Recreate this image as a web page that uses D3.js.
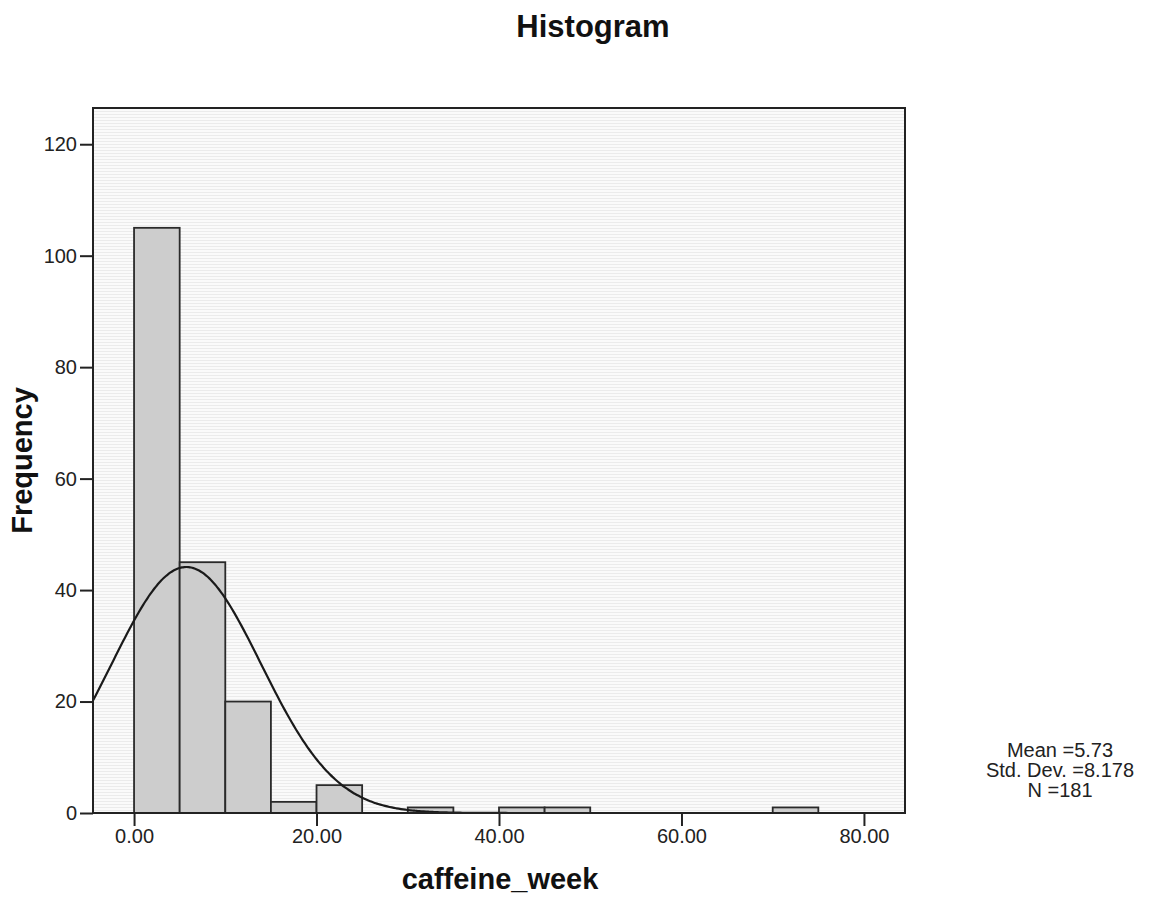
<!DOCTYPE html>
<html>
<head>
<meta charset="UTF-8">
<title>Histogram</title>
<script src="https://d3js.org/d3.v7.min.js"></script>
<style>
  body { margin: 0; background: #fff; font-family: 'Liberation Sans', Arial, sans-serif; }
  .tick text { font-family: 'Liberation Sans', Arial, sans-serif; font-size: 20px; fill: #222; }
</style>
</head>
<body>
<div id="chart"></div>
<script>
  // bin edges (width 5) and frequencies
  const binStart = [0, 5, 10, 15, 20, 25, 30, 35, 40, 45, 50, 55, 60, 65, 70];
  const counts   = [105, 45, 20, 2, 5, 0, 1, 0, 1, 1, 0, 0, 0, 0, 1];
  const binWidth = 5;
  const xTicks = [0, 20, 40, 60, 80];
  const yTicks = [0, 20, 40, 60, 80, 100, 120];
  const stats = { mean: 5.73, sd: 8.178, n: 181 };
  const statLines = ['Mean =5.73', 'Std. Dev. =8.178', 'N =181'];

  const W = 1151, H = 909;
  const P = { left: 93, right: 905, top: 108, bottom: 813 };

  const svg = d3.select('#chart').append('svg')
    .attr('width', W).attr('height', H);

  const x = d3.scaleLinear().domain([-4.5, 84.5]).range([P.left, P.right]);
  const y = d3.scaleLinear().domain([0, 126.5]).range([P.bottom, P.top]);

  // background with faint horizontal stripes
  const defs = svg.append('defs');
  const pat = defs.append('pattern').attr('id', 'stripes')
    .attr('width', 4).attr('height', 3).attr('patternUnits', 'userSpaceOnUse');
  pat.append('rect').attr('width', 4).attr('height', 3).attr('fill', '#fafafa');
  pat.append('rect').attr('width', 4).attr('height', 1).attr('fill', '#ebebeb');

  svg.append('rect')
    .attr('x', P.left).attr('y', P.top)
    .attr('width', P.right - P.left).attr('height', P.bottom - P.top)
    .attr('fill', 'url(#stripes)');

  const clip = defs.append('clipPath').attr('id', 'plotclip');
  clip.append('rect').attr('x', P.left).attr('y', P.top)
    .attr('width', P.right - P.left).attr('height', P.bottom - P.top);

  // bars
  svg.append('g').selectAll('rect')
    .data(binStart.map((s, i) => ({ s, c: counts[i] })).filter(d => d.c > 0))
    .join('rect')
    .attr('x', d => x(d.s))
    .attr('y', d => y(d.c))
    .attr('width', d => x(d.s + binWidth) - x(d.s))
    .attr('height', d => y(0) - y(d.c))
    .attr('fill', '#cdcdcd')
    .attr('stroke', '#2a2a2a')
    .attr('stroke-width', 1.8);

  // fitted normal curve from the stated mean / sd / N
  const curveX = d3.range(-4.5, 84.6, 0.25);
  const pdf = v => stats.n * binWidth / (stats.sd * Math.sqrt(2 * Math.PI)) *
    Math.exp(-0.5 * Math.pow((v - stats.mean) / stats.sd, 2));
  svg.append('path')
    .datum(curveX)
    .attr('clip-path', 'url(#plotclip)')
    .attr('fill', 'none')
    .attr('stroke', '#1a1a1a')
    .attr('stroke-width', 2.2)
    .attr('d', d3.line().x(d => x(d)).y(d => y(pdf(d))).curve(d3.curveBasis));

  // frame
  svg.append('rect')
    .attr('x', P.left).attr('y', P.top)
    .attr('width', P.right - P.left).attr('height', P.bottom - P.top)
    .attr('fill', 'none').attr('stroke', '#222').attr('stroke-width', 2);

  // axes
  const xAxis = svg.append('g').attr('transform', `translate(0,${P.bottom})`)
    .call(d3.axisBottom(x).tickValues(xTicks).tickSize(13).tickPadding(3).tickFormat(d3.format('.2f')));
  const yAxis = svg.append('g').attr('transform', `translate(${P.left},0)`)
    .call(d3.axisLeft(y).tickValues(yTicks).tickSize(13).tickPadding(3));
  [xAxis, yAxis].forEach(a => {
    a.select('.domain').remove();
    a.selectAll('.tick line').attr('stroke', '#222').attr('stroke-width', 2);
  });

  // titles
  svg.append('text')
    .attr('x', 593).attr('y', 37)
    .attr('text-anchor', 'middle')
    .attr('font-size', 31).attr('font-weight', 'bold').attr('fill', '#111')
    .text('Histogram');

  svg.append('text')
    .attr('x', (P.left + P.right) / 2 + 1).attr('y', 889)
    .attr('text-anchor', 'middle')
    .attr('font-size', 29).attr('font-weight', 'bold').attr('fill', '#111')
    .text('caffeine_week');

  svg.append('text')
    .attr('transform', `translate(32,${(P.top + P.bottom) / 2}) rotate(-90)`)
    .attr('text-anchor', 'middle')
    .attr('font-size', 29).attr('font-weight', 'bold').attr('fill', '#111')
    .text('Frequency');

  // stats box
  svg.append('g').selectAll('text')
    .data(statLines)
    .join('text')
    .attr('x', 1060)
    .attr('y', (d, i) => 757 + i * 20)
    .attr('text-anchor', 'middle')
    .attr('font-size', 20).attr('fill', '#222')
    .text(d => d);
</script>
</body>
</html>
